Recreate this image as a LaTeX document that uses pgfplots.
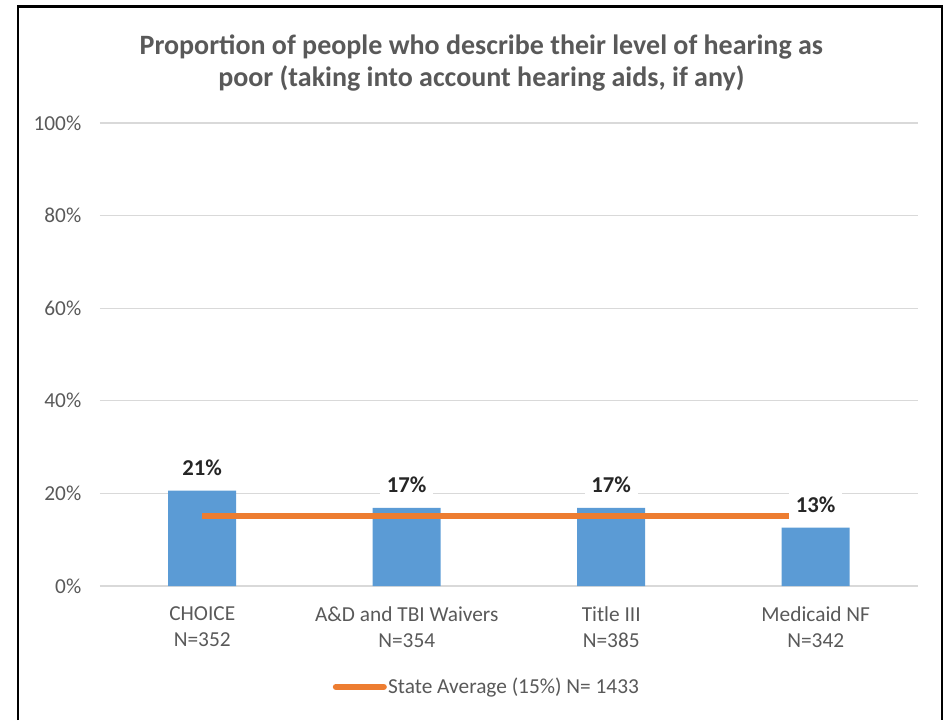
\documentclass[border=0pt]{standalone}
\usepackage{pgfplots}
\pgfplotsset{compat=1.18}
\usepackage{pgfplotstable}
\usepackage{fontspec}
\setmainfont{Carlito}

\definecolor{barblue}{HTML}{5B9BD5}
\definecolor{avgorange}{HTML}{ED7D31}
\definecolor{txtgray}{HTML}{595959}
\definecolor{gridgray}{HTML}{D9D9D9}

% share of people rating their hearing as poor, per programme
\pgfplotstableread{
x y
0 20.6
1 16.9
2 16.9
3 12.6
}\hearing

\pgfplotstableread{
x y
0 15.2
1 15.2
2 15.2
3 15.2
}\stateavg

\begin{document}
\begin{tikzpicture}
% page size and chart frame (1px = 0.75pt)
\path (0,0) rectangle (713.25pt,-538.5pt);
\draw[line width=2.2pt] (13.5pt,-540pt) -- (13.5pt,-5pt) -- (706.5pt,-5pt) -- (706.5pt,-540pt);

\node[align=center, text=txtgray, font=\bfseries\fontsize{21}{24}\selectfont]
  at (361pt,-47.5pt) {Proportion of people who describe their level of hearing as\\poor (taking into account hearing aids, if any)};

\begin{axis}[
    at={(75pt,-439.5pt)}, anchor=south west,
    scale only axis,
    width=613.5pt, height=347.25pt,
    xmin=-0.5, xmax=3.5,
    ymin=0, ymax=100,
    ytick={0,20,40,60,80,100},
    yticklabel={\pgfmathprintnumber{\tick}\%},
    /pgf/number format/assume math mode=true,
    xtick={0,1,2,3},
    xticklabels={{CHOICE\\N=352},{A\&D and TBI Waivers\\N=354},{Title III\\N=385},{Medicaid NF\\N=342}},
    xticklabel style={align=center, font=\fontsize{16}{19.5}\selectfont, text=txtgray, yshift=-12pt},
    yticklabel style={font=\fontsize{16}{18}\selectfont, text=txtgray, xshift=-10.5pt},
    ymajorgrids, grid style={gridgray, line width=1pt},
    axis line style={draw=none},
    major tick style={draw=none},
    legend style={at={(0.4725,-0.218)}, anchor=center, draw=none,
        font=\fontsize{16}{18}\selectfont, text=txtgray,
        nodes={inner sep=1pt}},
    legend image code/.code={\draw[avgorange, line width=4.5pt, line cap=round] (0pt,0pt) -- (36pt,0pt);},
]
\addplot[ybar, bar width=51pt, fill=barblue, draw=none, forget plot] table[x=x, y=y] {\hearing};

\addplot[avgorange, line width=4.5pt, mark=none] table[x=x, y=y] {\stateavg};
\addlegendentry{State Average (15\%) N= 1433}

% value labels on top of everything
\addplot[draw=none, mark=none, forget plot,
    nodes near coords={\pgfmathprintnumber[precision=0]{\pgfplotspointmeta}\%},
    every node near coord/.append style={font=\bfseries\fontsize{17}{18}\selectfont,
        text=black!85, fill=white, inner xsep=5pt, inner ysep=5pt, anchor=south, yshift=6pt},
    ] table[x=x, y=y] {\hearing};
\end{axis}
\end{tikzpicture}
\end{document}
